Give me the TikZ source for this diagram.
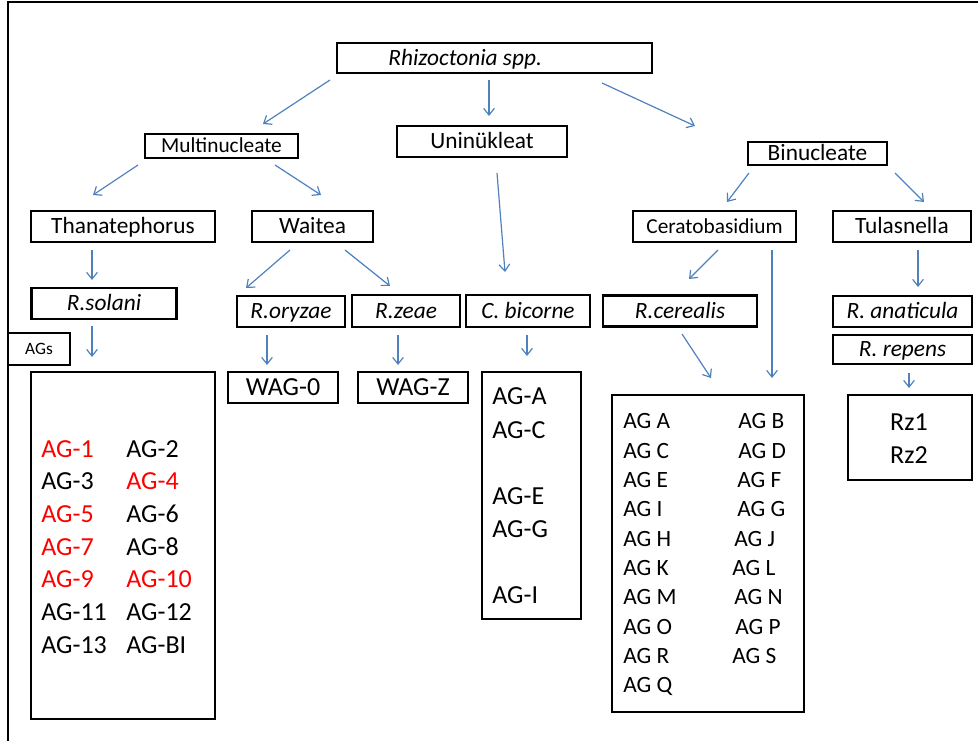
\documentclass[tikz,border=0pt]{standalone}
\usepackage{fontspec}
\setmainfont{Carlito}
\usetikzlibrary{arrows.meta}
\definecolor{arrowblue}{RGB}{79,129,189}
\definecolor{agred}{RGB}{255,0,0}
\begin{document}
\begin{tikzpicture}[x=0.75pt,y=-0.75pt,
  lbl/.style={draw, line width=1.8pt, inner sep=0pt, text depth=0pt, align=center},
  sz/.style 2 args={minimum width=#1*0.75pt, minimum height=#2*0.75pt},
  fbig/.style={font=\fontsize{17.5pt}{21pt}\selectfont, text height=11.1pt},
  fmid/.style={font=\fontsize{16pt}{19pt}\selectfont, text height=10.1pt},
  fhuge/.style={font=\fontsize{19.5pt}{23pt}\selectfont, text height=12.3pt},
  fsmall/.style={font=\fontsize{13pt}{16pt}\selectfont, text height=8.2pt},
  itl/.style={font=\fontsize{17.5pt}{21pt}\selectfont\itshape, text height=11.1pt},
  listA/.style={anchor=base west, inner sep=0pt, font=\fontsize{19.5pt}{23pt}\selectfont},
  listB/.style={anchor=base west, inner sep=0pt, font=\fontsize{17.5pt}{21pt}\selectfont},
  agbox/.style={draw, line width=1.8pt, inner sep=0pt},
  arr/.style={draw=arrowblue, line width=0.9pt, -{Straight Barb[length=5pt,width=8pt]}}
]
\useasboundingbox (0,0) rectangle (978,741);
% frame
\draw[line width=1.5pt] (7.5,741) -- (7.5,2.5) -- (978,2.5);

% labelled boxes
\node[lbl, itl, sz={315}{30}] (rhiz) at (494.5,58) {Rhizoctonia spp.\hspace*{44pt}};
\node[lbl, fmid, sz={153}{24}] (multi) at (221.5,146) {Multinucleate};
\node[lbl, fbig, sz={170}{31}] (uni) at (482,141.5) {Uninükleat};
\node[lbl, fbig, sz={139}{23}] (bin) at (817.5,153.5) {Binucleate};
\node[lbl, fbig, sz={184}{31}] (than) at (123,226.5) {Thanatephorus};
\node[lbl, fbig, sz={121}{31}] (wait) at (312.5,226.5) {Waitea};
\node[lbl, fmid, sz={163}{31}] (cerat) at (714.5,226.5) {Ceratobasidium};
\node[lbl, fbig, sz={138}{31}] (tulas) at (902,226.5) {Tulasnella};
\node[lbl, itl, sz={145}{31}] (solani) at (104,303.5) {R.solani};
\node[lbl, itl, sz={108}{31}] (oryzae) at (291,311.5) {R.oryzae};
\node[lbl, itl, sz={108}{32}] (zeae) at (406,311) {R.zeae};
\node[lbl, itl, sz={124}{32}] (bicorne) at (528,311) {C. bicorne};
\node[lbl, itl, sz={154}{31}] (cerealis) at (680,311) {R.cerealis};
\node[lbl, itl, sz={139}{31}] (anatic) at (902.5,311.5) {R. anaticula};
\node[lbl, itl, sz={139}{29}] (repens) at (902.5,349.5) {R. repens};
\node[lbl, fsmall, sz={62}{32}] (agslbl) at (39,349) {AGs};
\node[lbl, fhuge, sz={110}{31}] (wag0) at (283,387.5) {WAG-0};
\node[lbl, fhuge, sz={110}{31}] (wagz) at (413,387.5) {WAG-Z};

% list boxes
\node[agbox, sz={184}{347}] (agsol) at (123,545.5) {};
\node[agbox, sz={99}{247}] (agbic) at (531.5,495.5) {};
\node[agbox, sz={192}{317}] (agcer) at (708,553.5) {};
\node[agbox, sz={124}{85}] (rz) at (910,437.5) {};

% R. solani AG list
\foreach \t/\c [count=\i from 0] in {AG-1/agred, AG-3/black, AG-5/agred, AG-7/agred, AG-9/agred, AG-11/black, AG-13/black}
  \node[listA, text=\c] (sl\i) at (41,{457+32.67*\i}) {\t};
\foreach \t/\c [count=\i from 0] in {AG-2/black, AG-4/agred, AG-6/black, AG-8/black, AG-10/agred, AG-12/black, AG-BI/black}
  \node[listA, text=\c] (sr\i) at (126,{457+32.67*\i}) {\t};

% C. bicorne AG list
\foreach \t/\y [count=\i] in {AG-A/405, AG-C/438, AG-E/504, AG-G/537, AG-I/603}
  \node[listA] (bc\i) at (492,\y) {\t};

% Ceratobasidium AG list
\foreach \t [count=\i from 0] in {AG A, AG C, AG E, AG I, AG H, AG K, AG M, AG O, AG R, AG Q}
  \node[listB] (cl\i) at (623,{429+29.3*\i}) {\t};
\foreach \t/\x [count=\i from 0] in {AG B/738, AG D/738, AG F/737, AG G/737, AG J/734, AG L/732, AG N/734, AG P/735, AG S/732}
  \node[listB] (cr\i) at (\x,{429+29.3*\i}) {\t};

% Rz
\node[anchor=base, inner sep=0pt, font=\fontsize{19.5pt}{23pt}\selectfont] (rz1) at (909,431) {Rz1};
\node[anchor=base, inner sep=0pt, font=\fontsize{19.5pt}{23pt}\selectfont] (rz2) at (909,463) {Rz2};

% arrow end points
\coordinate (a1s) at (330,80);   \coordinate (a1e) at (263,124);
\coordinate (a2s) at (489,80);   \coordinate (a2e) at (489,116);
\coordinate (a3s) at (602,83);   \coordinate (a3e) at (695,126);
\coordinate (a4s) at (138,165);  \coordinate (a4e) at (93,195);
\coordinate (a5s) at (275,165);  \coordinate (a5e) at (321,195);
\coordinate (a6s) at (92,250);   \coordinate (a6e) at (92,280);
\coordinate (a7s) at (92,326);   \coordinate (a7e) at (92,357);
\coordinate (a8s) at (290,250);  \coordinate (a8e) at (246,288);
\coordinate (a9s) at (345,250);  \coordinate (a9e) at (390,286);
\coordinate (a10s) at (497,173); \coordinate (a10e) at (505,272);
\coordinate (a11s) at (267,335); \coordinate (a11e) at (267,365);
\coordinate (a12s) at (398,335); \coordinate (a12e) at (398,365);
\coordinate (a13s) at (527,335); \coordinate (a13e) at (527,356);
\coordinate (a14s) at (749,173); \coordinate (a14e) at (727,202);
\coordinate (a15s) at (895,173); \coordinate (a15e) at (924,202);
\coordinate (a16s) at (718,250); \coordinate (a16e) at (689,279);
\coordinate (a17s) at (772,250); \coordinate (a17e) at (772,378);
\coordinate (a18s) at (682,334); \coordinate (a18e) at (711,378);
\coordinate (a19s) at (918,250); \coordinate (a19e) at (918,287);
\coordinate (a20s) at (909,373); \coordinate (a20e) at (909,388);

\foreach \k in {1,...,20}
  \draw[arr] (a\k s) -- (a\k e);
\end{tikzpicture}
\end{document}
